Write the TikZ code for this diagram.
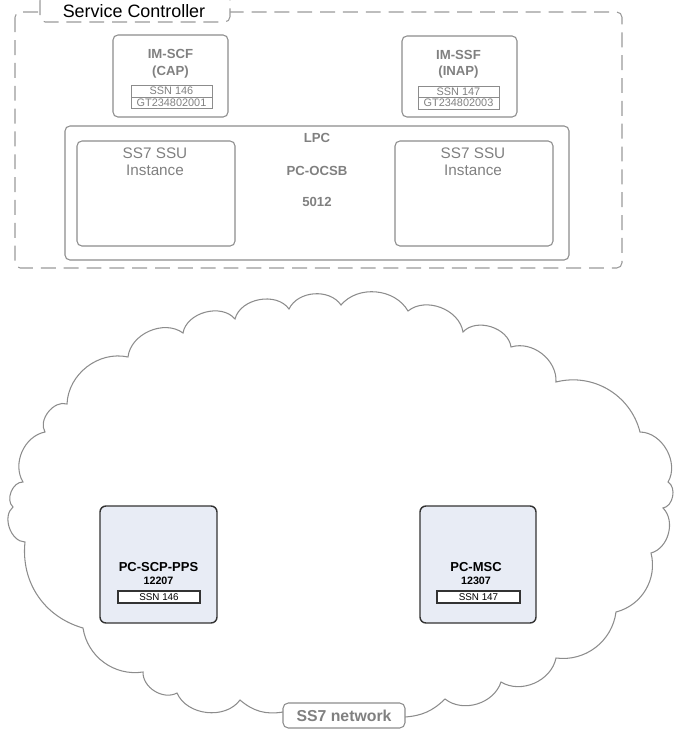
\documentclass[tikz,border=0pt]{standalone}
\usepackage{fontspec}
\setmainfont{Liberation Sans}
\usetikzlibrary{calc}
\definecolor{framegray}{HTML}{9A9A9A}
\definecolor{boxgray}{HTML}{8C8C8C}
\definecolor{textgray}{HTML}{808080}
\definecolor{pcfill}{HTML}{E8ECF5}
\definecolor{pcline}{HTML}{333333}
\def\fs#1{\fontsize{#1}{#1}\selectfont}
\tikzset{
  scframe/.style={draw=framegray, line width=0.6pt, dash pattern=on 8.5pt off 4.5pt, rounded corners=3pt},
  graybox/.style={draw=boxgray, line width=0.6pt, rounded corners=2.8pt},
  graycell/.style={draw=boxgray, line width=0.5pt},
  pcbox/.style={draw=pcline, fill=pcfill, line width=0.8pt, rounded corners=3.4pt},
  pccell/.style={draw=pcline, fill=white, line width=0.6pt},
  cloudline/.style={draw=boxgray, line width=0.6pt},
  grayhead/.style={inner sep=0pt, text=textgray, font=\fs{7.5}\bfseries},
  graysmall/.style={inner sep=0pt, text=textgray, font=\fs{6.2}},
  ssutext/.style={inner sep=0pt, text=textgray, font=\fs{8.7}},
  pchead/.style={inner sep=0pt, font=\fs{7.4}\bfseries},
  pcnum/.style={inner sep=0pt, font=\fs{6.1}\bfseries},
  pcsmall/.style={inner sep=0pt, font=\fs{5.6}}
}

\begin{document}
\begin{tikzpicture}[x=0.02cm, y=-0.02cm]
		%%%%% START %%%%%
		\useasboundingbox (0, 0) rectangle (678, 730);
		
		% service controller frame and its tab
		\draw[scframe] (15, 12) rectangle (622, 268);
		\draw[scframe, fill=white] (40, -5) rectangle (230, 22);
		\node[inner sep=0pt, font=\fs{10.2}] (sc) at (134, 11.5) {Service Controller};
		
		% IM-SCF
		\draw[graybox] (113, 35) rectangle (228, 117);
		\node[grayhead] (scf) at (170.5, 54) {IM-SCF};
		\node[grayhead] (cap) at (170.5, 72) {(CAP)};
		\draw[graycell] (131, 85) rectangle (212, 97);
		\draw[graycell] (131, 97) rectangle (212, 108);
		\node[graysmall] (scfssn) at (171.5, 91) {SSN 146};
		\node[graysmall] (scfgt) at (171.5, 102.5) {GT234802001};
		
		% IM-SSF
		\draw[graybox] (402, 36) rectangle (517, 117);
		\node[grayhead] (ssf) at (458.5, 55) {IM-SSF};
		\node[grayhead] (inap) at (458.5, 72) {(INAP)};
		\draw[graycell] (418, 86) rectangle (499, 97);
		\draw[graycell] (418, 97) rectangle (499, 109);
		\node[graysmall] (ssfssn) at (458.5, 91.5) {SSN 147};
		\node[graysmall] (ssfgt) at (458.5, 103) {GT234802003};
		
		% LPC with the two SSU instances
		\draw[graybox] (65, 126) rectangle (569, 260);
		\node[grayhead] (lpc) at (317, 138) {LPC};
		\node[grayhead] (ocsb) at (317, 171) {PC-OCSB};
		\node[grayhead] (pcnr) at (317, 202) {5012};
		\draw[graybox] (77, 141) rectangle (235, 246);
		\node[ssutext] (ssua) at (155, 153) {SS7 SSU};
		\node[ssutext] (insta) at (155, 170) {Instance};
		\draw[graybox] (395, 141) rectangle (553, 246);
		\node[ssutext] (ssub) at (473, 153) {SS7 SSU};
		\node[ssutext] (instb) at (473, 170) {Instance};
		
		% SS7 network cloud
		\draw[cloudline] (283, 712) to[bend left=25] (240, 700)
		  to[bend left=60] (177, 693) to[bend left=60] (143, 672)
		  to[bend left=45] (83, 628) to[bend left=40] (25, 542)
		  to[bend left=70] (13, 507) to[bend left=70] (23, 482)
		  to[bend left=55] (45, 432) to[bend left=70] (67, 404)
		  to[bend left=50] (128, 357) to[bend left=60] (183, 333)
		  to[bend left=65] (235, 319) to[bend left=65] (289, 309)
		  to[bend left=60] (341, 305) to[bend left=55] (408, 311)
		  to[bend left=60] (463, 332) to[bend left=65] (511, 347)
		  to[bend left=55] (556, 382) to[bend left=45] (640, 432)
		  to[bend left=60] (668, 482) to[bend left=70] (663, 508)
		  to[bend left=60] (651, 553) to[bend left=45] (616, 612)
		  to[bend left=45] (556, 658) to[bend left=55] (501, 682)
		  to[bend left=55] (445, 699) to[bend left=20] (405, 717);
		\draw[draw=boxgray, fill=white, line width=0.6pt, rounded corners=3pt] (283, 703) rectangle (405, 728);
		\node[inner sep=0pt, text=textgray, font=\fs{9}\bfseries] (net) at (344, 715.5) {SS7 network};
		
		% point codes in the network
		\draw[pcbox] (100, 506) rectangle (217, 623);
		\node[pchead] (scp) at (158.5, 567) {PC-SCP-PPS};
		\node[pcnum] (scpnr) at (158.5, 581) {12207};
		\draw[pccell] (118, 591) rectangle (200, 603);
		\node[pcsmall] (scpssn) at (159, 597) {SSN 146};
		
		\draw[pcbox] (420, 506) rectangle (536, 623);
		\node[pchead] (msc) at (476, 567) {PC-MSC};
		\node[pcnum] (mscnr) at (476, 581) {12307};
		\draw[pccell] (437, 591) rectangle (520, 603);
		\node[pcsmall] (mscssn) at (478.5, 597) {SSN 147};
		%%%%% END %%%%%
	\end{tikzpicture}
\end{document}
